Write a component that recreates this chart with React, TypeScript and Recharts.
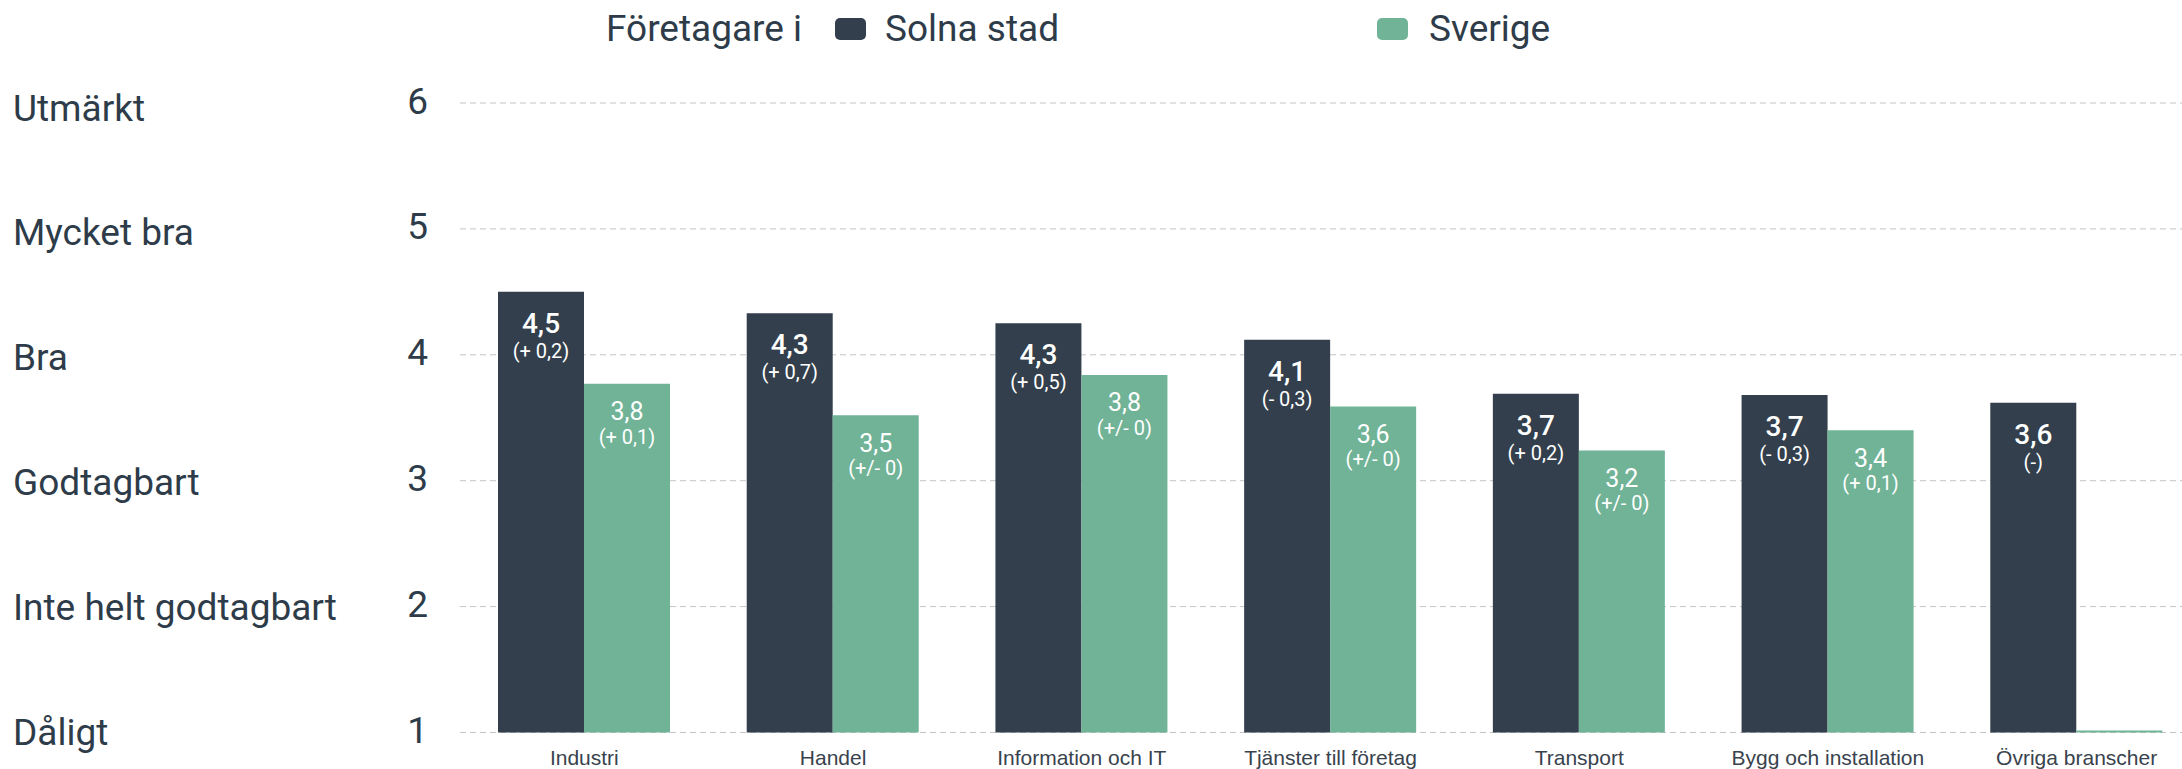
import React from "react";
import { Bar, BarChart, CartesianGrid, LabelList, XAxis, YAxis } from "recharts";

const categories = [
  "Industri",
  "Handel",
  "Information och IT",
  "Tjänster till företag",
  "Transport",
  "Bygg och installation",
  "Övriga branscher",
];
const solnaValues = [4.5, 4.33, 4.25, 4.12, 3.69, 3.68, 3.62];
const sverigeValues = [3.77, 3.52, 3.84, 3.59, 3.24, 3.4, 1.0];
const solnaLabels = ["4,5", "4,3", "4,3", "4,1", "3,7", "3,7", "3,6"];
const solnaChanges = ["(+ 0,2)", "(+ 0,7)", "(+ 0,5)", "(- 0,3)", "(+ 0,2)", "(- 0,3)", "(-)"];
const sverigeLabels = ["3,8", "3,5", "3,8", "3,6", "3,2", "3,4", ""];
const sverigeChanges = ["(+ 0,1)", "(+/- 0)", "(+/- 0)", "(+/- 0)", "(+/- 0)", "(+ 0,1)", ""];
const scaleTicks = [1, 2, 3, 4, 5, 6];
const scaleNames = ["Dåligt", "Inte helt godtagbart", "Godtagbart", "Bra", "Mycket bra", "Utmärkt"];

const DARK = "#333f4c";
const GREEN = "#70b397";
const TEXT = "#2e3c4a";
const FONT = "Roboto, sans-serif";

const data = categories.map((name, i) => ({
  name,
  solna: solnaValues[i],
  sverige: sverigeValues[i],
}));

const makeBarLabel = (labels: string[], changes: string[], big: boolean) => (props: any) => {
  const { x, y, width, index } = props;
  if (!labels[index]) return null;
  const cx = Number(x) + Number(width) / 2;
  const top = Number(y);
  return (
    <g>
      <text
        x={cx}
        y={top + (big ? 31.5 : 28)}
        fill="#fff"
        textAnchor="middle"
        dominantBaseline="central"
        fontFamily={FONT}
        fontSize={big ? 28 : 25}
        fontWeight={big ? 500 : 400}
      >
        {labels[index]}
      </text>
      <text
        x={cx}
        y={top + (big ? 59 : 53)}
        fill="#fff"
        textAnchor="middle"
        dominantBaseline="central"
        fontFamily={FONT}
        fontSize={20}
      >
        {changes[index]}
      </text>
    </g>
  );
};

const ScaleTick = (props: any) => {
  const { y, payload } = props;
  const i = scaleTicks.indexOf(payload.value);
  return (
    <g>
      <text
        x={13}
        y={y + (payload.value - 1)}
        dominantBaseline="central"
        fontFamily={FONT}
        fontSize={37}
        fill={TEXT}
      >
        {scaleNames[i]}
      </text>
      <text
        x={428}
        y={y - 2}
        textAnchor="end"
        dominantBaseline="central"
        fontFamily={FONT}
        fontSize={37}
        fill={TEXT}
      >
        {payload.value}
      </text>
    </g>
  );
};

const CategoryTick = (props: any) => {
  const { x, y, payload } = props;
  return (
    <text
      x={x}
      y={y + 24.5}
      textAnchor="middle"
      fontFamily="'Liberation Sans', Arial, sans-serif"
      fontSize={21}
      fill="#39434d"
    >
      {payload.value}
    </text>
  );
};

const legendText: React.CSSProperties = {
  position: "absolute",
  top: 10,
  fontFamily: FONT,
  fontSize: 37,
  lineHeight: 1,
  color: TEXT,
  whiteSpace: "nowrap",
};
const swatch = (color: string): React.CSSProperties => ({
  position: "absolute",
  top: 18,
  width: 31,
  height: 22,
  borderRadius: 5,
  background: color,
});

const App = () => {
  return (
    <div
      style={{
        position: "absolute",
        left: 0,
        top: 0,
        width: 2182,
        height: 769,
        overflow: "hidden",
        background: "#fff",
      }}
    >
      <BarChart
        width={2201}
        height={769}
        data={data}
        margin={{ top: 103, right: 0, bottom: 0, left: 0 }}
        barSize={86}
        barGap={0}
      >
        <CartesianGrid vertical={false} stroke="#c4c4c4" strokeDasharray="6 4" />
        <XAxis
          dataKey="name"
          axisLine={false}
          tickLine={false}
          height={36.5}
          interval={0}
          tick={<CategoryTick />}
        />
        <YAxis
          type="number"
          domain={[1, 6]}
          ticks={scaleTicks}
          width={460}
          axisLine={false}
          tickLine={false}
          tick={<ScaleTick />}
        />
        <Bar dataKey="solna" fill={DARK} isAnimationActive={false}>
          <LabelList dataKey="solna" content={makeBarLabel(solnaLabels, solnaChanges, true)} />
        </Bar>
        <Bar dataKey="sverige" fill={GREEN} minPointSize={2} isAnimationActive={false}>
          <LabelList dataKey="sverige" content={makeBarLabel(sverigeLabels, sverigeChanges, false)} />
        </Bar>
      </BarChart>
      <div style={{ ...legendText, left: 606 }}>Företagare i</div>
      <div style={{ ...swatch(DARK), left: 835 }} />
      <div style={{ ...legendText, left: 885 }}>Solna stad</div>
      <div style={{ ...swatch(GREEN), left: 1377 }} />
      <div style={{ ...legendText, left: 1429 }}>Sverige</div>
    </div>
  );
};

export default App;
